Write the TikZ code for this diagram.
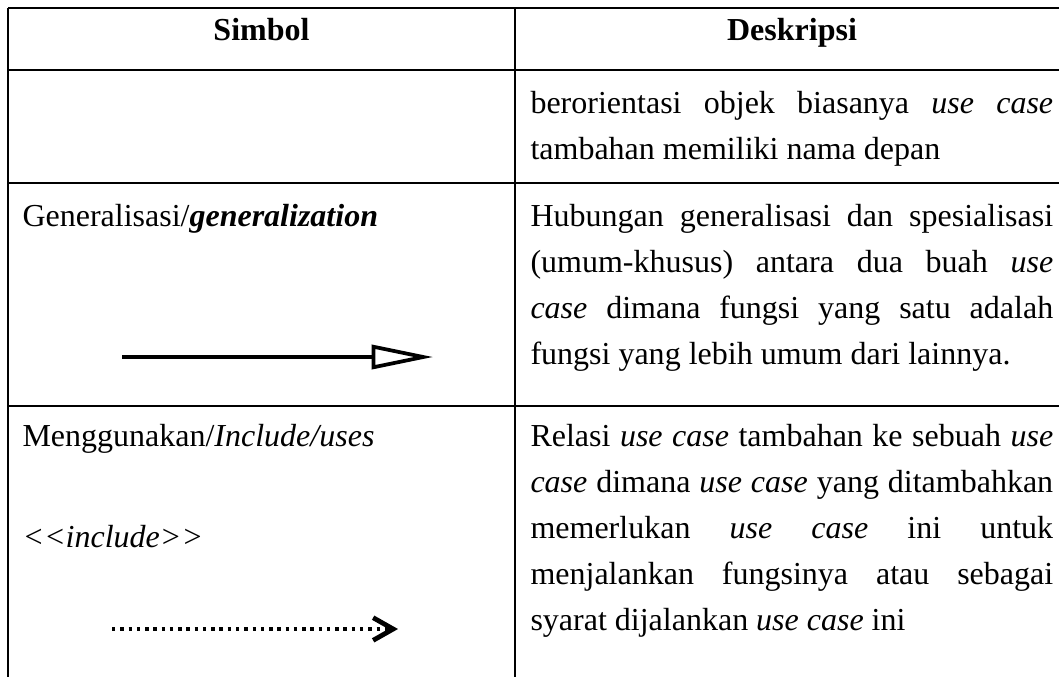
\documentclass[tikz,border=0pt]{standalone}
\usepackage{fontspec}
\setmainfont{Liberation Serif}
\usetikzlibrary{arrows.meta}

\newcommand{\rata}[1]{\makebox[196pt][s]{#1}}

\begin{document}
\begin{tikzpicture}[x=0.375pt,y=-0.375pt]
		\tikzset{garis/.style={line width=1.1pt},
			teks/.style={anchor=base west, inner sep=0pt, font=\fontsize{12}{14}\selectfont},
			judul/.style={anchor=base, inner sep=0pt, font=\fontsize{12}{14}\selectfont\bfseries}}
		\useasboundingbox (0,0) rectangle (1059,677);

		% garis tabel
		\draw[garis] (8,8) -- (1059,8);
		\draw[garis] (8,70) -- (1059,70);
		\draw[garis] (8,183) -- (1059,183);
		\draw[garis] (8,406) -- (1059,406);
		\draw[garis] (8,8) -- (8,677);
		\draw[garis] (515,8) -- (515,677);

		% kepala tabel
		\node[judul] (simbol) at (261.5,40) {Simbol};
		\node[judul] (deskripsi) at (792,40) {Deskripsi};

		% baris 1
		\node[teks] (b1a) at (530,113) {\rata{berorientasi objek biasanya \textit{use case}}};
		\node[teks] (b1b) at (530,159) {tambahan memiliki nama depan};

		% baris 2
		\node[teks] (gen) at (22,226) {Generalisasi/\textbf{\textit{generalization}}};
		\node[teks] (b2a) at (530,226) {\rata{Hubungan generalisasi dan spesialisasi}};
		\node[teks] (b2b) at (530,272) {\rata{(umum-khusus) antara dua buah \textit{use}}};
		\node[teks] (b2c) at (530,318) {\rata{\textit{case} dimana fungsi yang satu adalah}};
		\node[teks] (b2d) at (530,364) {fungsi yang lebih umum dari lainnya.};
		\coordinate (genA) at (122,357);
		\coordinate (genB) at (433,357);
		\draw[line width=1.4pt, -{Triangle[open, length=23pt, width=9pt]}] (genA) -- (genB);

		% baris 3
		\node[teks] (inc) at (22,446) {Menggunakan/\textit{Include/uses}};
		\node[teks] (stereo) at (22,547) {\textit{{<}{<}include{>}{>}}};
		\node[teks] (b3a) at (530,446) {\rata{Relasi \textit{use case} tambahan ke sebuah \textit{use}}};
		\node[teks] (b3b) at (530,492) {\rata{\textit{case} dimana \textit{use case} yang ditambahkan}};
		\node[teks] (b3c) at (530,538) {\rata{memerlukan \textit{use case} ini untuk}};
		\node[teks] (b3d) at (530,584) {\rata{menjalankan fungsinya atau sebagai}};
		\node[teks] (b3e) at (530,630) {syarat dijalankan \textit{use case} ini};
		\coordinate (incA) at (112,629);
		\coordinate (incB) at (398,629);
		\draw[line width=1.5pt, dash pattern=on 1.3pt off 1.8pt, -{Straight Barb[length=7.5pt, width=8.5pt, line width=1.8pt]}] (incA) -- (incB);

		\end{tikzpicture}
\end{document}
